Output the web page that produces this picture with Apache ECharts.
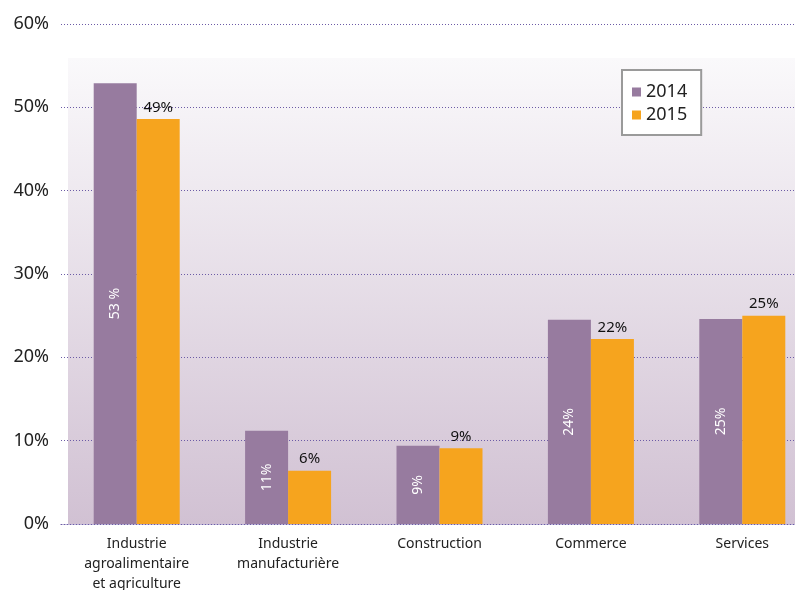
<!DOCTYPE html>
<html>
<head>
<meta charset="utf-8">
<script src="https://cdn.jsdelivr.net/npm/echarts@6/dist/echarts.min.js"></script>
<style>
  html, body { margin: 0; padding: 0; background: #fff; }
  #chart { width: 795px; height: 590px; }
</style>
</head>
<body>
<div id="chart"></div>
<script>
const categories = ['Industrie\nagroalimentaire\net agriculture', 'Industrie\nmanufacturière', 'Construction', 'Commerce', 'Services'];
const values2014 = [52.9, 11.2, 9.4, 24.5, 24.6];
const values2015 = [48.6, 6.4, 9.1, 22.2, 25.0];
const labels2014 = ['53 %', '11%', '9%', '24%', '25%'];
const labels2015 = ['49%', '6%', '9%', '22%', '25%'];
const yTicks = [0, 10, 20, 30, 40, 50, 60];

const font = '"Noto Sans", "Open Sans", sans-serif';
const chart = echarts.init(document.getElementById('chart'));

// pointillés violets des lignes de grille
const dotted = { color: '#6c5ba6', type: [1, 2], width: 1.2 };

const option = {
    animation: false,
    textStyle: { fontFamily: font },
    graphic: [{
        type: 'rect',
        z: -10,
        shape: { x: 68, y: 58, width: 727, height: 466 },
        style: {
            fill: new echarts.graphic.LinearGradient(0, 0, 0, 1, [
                { offset: 0, color: '#faf9fb' },
                { offset: 1, color: '#d1c1d3' }
            ])
        },
        silent: true
    }],
    grid: { left: 61, right: -23, top: 24, bottom: 66, outerBoundsMode: 'none', containLabel: false },
    legend: {
        orient: 'vertical',
        left: 622,
        top: 70,
        padding: [13, 14, 11, 10],
        itemGap: 5,
        itemWidth: 9,
        itemHeight: 9,
        icon: 'rect',
        backgroundColor: '#fff',
        borderColor: '#9a9a9a',
        borderWidth: 2,
        textStyle: { fontSize: 18, color: '#222', fontFamily: font },
        data: ['2014', '2015']
    },
    xAxis: {
        type: 'category',
        data: categories,
        axisLine: { show: true, lineStyle: dotted },
        axisTick: { show: false },
        axisLabel: { color: '#222', fontSize: 14, lineHeight: 20, margin: 10, fontFamily: font }
    },
    yAxis: {
        type: 'value',
        min: yTicks[0],
        max: yTicks[yTicks.length - 1],
        interval: 10,
        axisLine: { show: false },
        axisTick: { show: false },
        axisLabel: { color: '#222', fontSize: 18, margin: 12, formatter: '{value}%', fontFamily: font },
        splitLine: { lineStyle: dotted }
    },
    series: [{
        name: '2014',
        type: 'bar',
        data: values2014,
        barWidth: 43,
        barGap: '0%',
        itemStyle: { color: '#977b9f' },
        label: {
            show: true,
            position: 'inside',
            rotate: 90,
            color: '#fff',
            fontSize: 14,
            fontFamily: font,
            formatter: p => labels2014[p.dataIndex]
        }
    }, {
        name: '2015',
        type: 'bar',
        data: values2015,
        barWidth: 43,
        itemStyle: { color: '#f6a41e' },
        label: {
            show: true,
            position: 'top',
            distance: 4,
            color: '#111',
            fontSize: 15,
            fontFamily: font,
            formatter: p => labels2015[p.dataIndex]
        }
    }]
};

chart.setOption(option);
</script>
</body>
</html>
